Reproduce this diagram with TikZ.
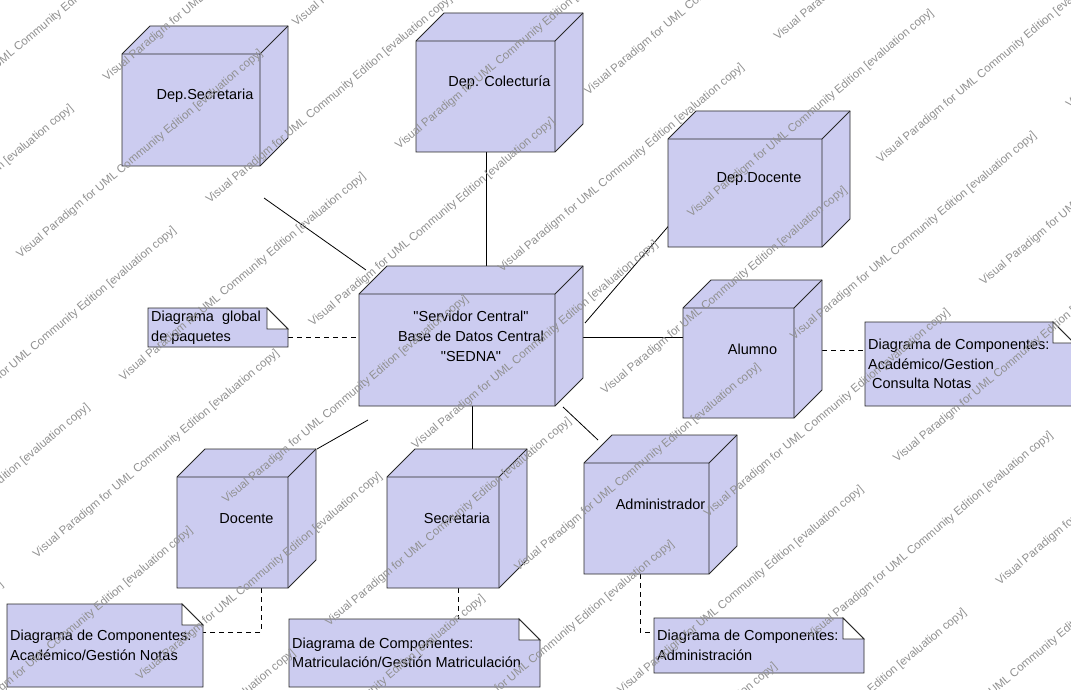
\documentclass[tikz,border=0pt]{standalone}
\usepackage{fontspec}
\setmainfont{Liberation Sans}[Ligatures=TeXOff]
\definecolor{nodefill}{RGB}{204,204,240}
\definecolor{wmark}{RGB}{145,145,145}
\definecolor{edgecol}{RGB}{40,40,40}
\tikzset{
  nodeface/.style={fill=nodefill, draw=edgecol, line width=0.9pt, line join=miter},
  edgeline/.style={draw=edgecol, line width=0.9pt},
  lbl/.style={font=\fontsize{14.5}{20}\selectfont, align=center, inner sep=0pt},
  notetext/.style={font=\fontsize{14.5}{19.5}\selectfont, align=left, anchor=west, inner sep=0pt},
  conn/.style={draw=black, line width=0.8pt},
  dashconn/.style={draw=black, line width=0.8pt, dash pattern=on 5pt off 4pt},
  wm/.style={font=\fontsize{11.5}{13}\selectfont, text=wmark, rotate=40, inner sep=0pt}
}
% #1 name, #2 x1, #3 y1, #4 x2, #5 y2 (front face), #6 depth, #7 label
\newcommand{\depnode}[7]{%
  \path[nodeface] (#2,#3) -- (#2+#6,#3-#6) -- (#4+#6,#3-#6) -- (#4+#6,#5-#6) -- (#4,#5) -- (#2,#5) -- cycle;
  \path[edgeline] (#2,#3) -- (#4,#3) -- (#4+#6,#3-#6) (#4,#3) -- (#4,#5);
  \node[lbl] (#1) at ({(#2+#4+#6)/2},{(#3+#5-#6)/2}) {#7};
}
% #1 name, #2 x1, #3 y1, #4 x2, #5 y2, #6 text
\newcommand{\notebox}[6]{%
  \path[nodeface] (#2,#3) -- (#4-21,#3) -- (#4,#3+21) -- (#4,#5) -- (#2,#5) -- cycle;
  \path[fill=white, draw=edgecol, line width=0.9pt, line join=miter] (#4-21,#3) -- (#4-21,#3+21) -- (#4,#3+21) -- cycle;
  \node[notetext] (#1) at (#2+3,{(#3+#5)/2}) {#6};
}
\begin{document}
\begin{tikzpicture}[x=1pt,y=-1pt]
\useasboundingbox (0,0) rectangle (1071,690);
\fill[white] (0,0) rectangle (1071,690);

% connector end points
\coordinate (sA) at (264,198);  \coordinate (sB) at (366,270);
\coordinate (cA) at (486,152);  \coordinate (cB) at (486,266);
\coordinate (dA) at (672,222);  \coordinate (dB) at (585,323);
\coordinate (aA) at (583,337);  \coordinate (aB) at (683,337);
\coordinate (oA) at (368,420);  \coordinate (oB) at (317,449);
\coordinate (eA) at (472,406);  \coordinate (eB) at (472,449);
\coordinate (mA) at (563,407);  \coordinate (mB) at (598,440);
\coordinate (gA) at (288,337);  \coordinate (gB) at (359,337);
\coordinate (lA) at (822,350);  \coordinate (lB) at (865,350);
\coordinate (tA) at (261,588);  \coordinate (tK) at (261,632);  \coordinate (tB) at (203,632);
\coordinate (rA) at (458,588);  \coordinate (rB) at (458,619);
\coordinate (nA) at (640,574);  \coordinate (nK) at (640,632);  \coordinate (nB) at (654,632);

\draw[conn] (sA) -- (sB);
\draw[conn] (cA) -- (cB);
\draw[conn] (dA) -- (dB);
\draw[conn] (aA) -- (aB);
\draw[conn] (oA) -- (oB);
\draw[conn] (eA) -- (eB);
\draw[conn] (mA) -- (mB);
\draw[dashconn] (gA) -- (gB);
\draw[dashconn] (lA) -- (lB);
\draw[dashconn] (tA) -- (tK) -- (tB);
\draw[dashconn] (rA) -- (rB);
\draw[dashconn] (nA) -- (nK) -- (nB);

% nodes
\depnode{depsec}{122}{54}{260}{166}{28}{Dep.Secretaria}
\depnode{depcol}{416}{41}{555}{152}{28}{Dep. Colecturía}
\depnode{depdoc}{668}{139}{822}{247}{28}{Dep.Docente}
\depnode{serv}{359}{294}{555}{406}{28}{"Servidor Central"\\Base de Datos Central\\"SEDNA"}
\depnode{alumno}{683}{308}{794}{418}{28}{Alumno}
\depnode{docente}{177}{477}{288}{588}{28}{Docente}
\depnode{secre}{387}{477}{499}{588}{28}{Secretaria}
\depnode{admin}{584}{463}{709}{574}{28}{Administrador}

% notes
\notebox{nglob}{148}{308}{288}{347}{Diagrama\ \ global\\de paquetes}
\notebox{nalum}{865}{322}{1074}{406}{Diagrama de Componentes:\\Académico/Gestion\\\hspace*{4pt}Consulta Notas}
\notebox{ndoc}{7}{604}{203}{687}{Diagrama de Componentes:\\Académico/Gestión Notas}
\notebox{nsec}{289}{619}{540}{687}{Diagrama de Componentes:\\Matriculación/Gestión Matriculación}
\notebox{nadm}{654}{618}{864}{673}{Diagrama de Componentes:\\Administración}

% watermark
\begin{scope}
\clip (0,0) rectangle (1071,690);
\foreach \i in {-3,...,3}{
  \foreach \j in {-9,...,9}{
    \pgfmathsetmacro{\s}{\i+0.5*mod(abs(\j),2)}
    \pgfmathsetmacro{\px}{535+\s*360*0.766+\j*80*0.643}
    \pgfmathsetmacro{\py}{345-\s*360*0.643+\j*80*0.766}
    \pgfmathtruncatemacro{\inside}{and(and(\px>-140,\px<1210),and(\py>-110,\py<800))}
    \ifnum\inside=1
      \node[wm] at (\px,\py) {Visual Paradigm for UML Community Edition [evaluation copy]};
    \fi
  }
}
\end{scope}
\end{tikzpicture}
\end{document}
